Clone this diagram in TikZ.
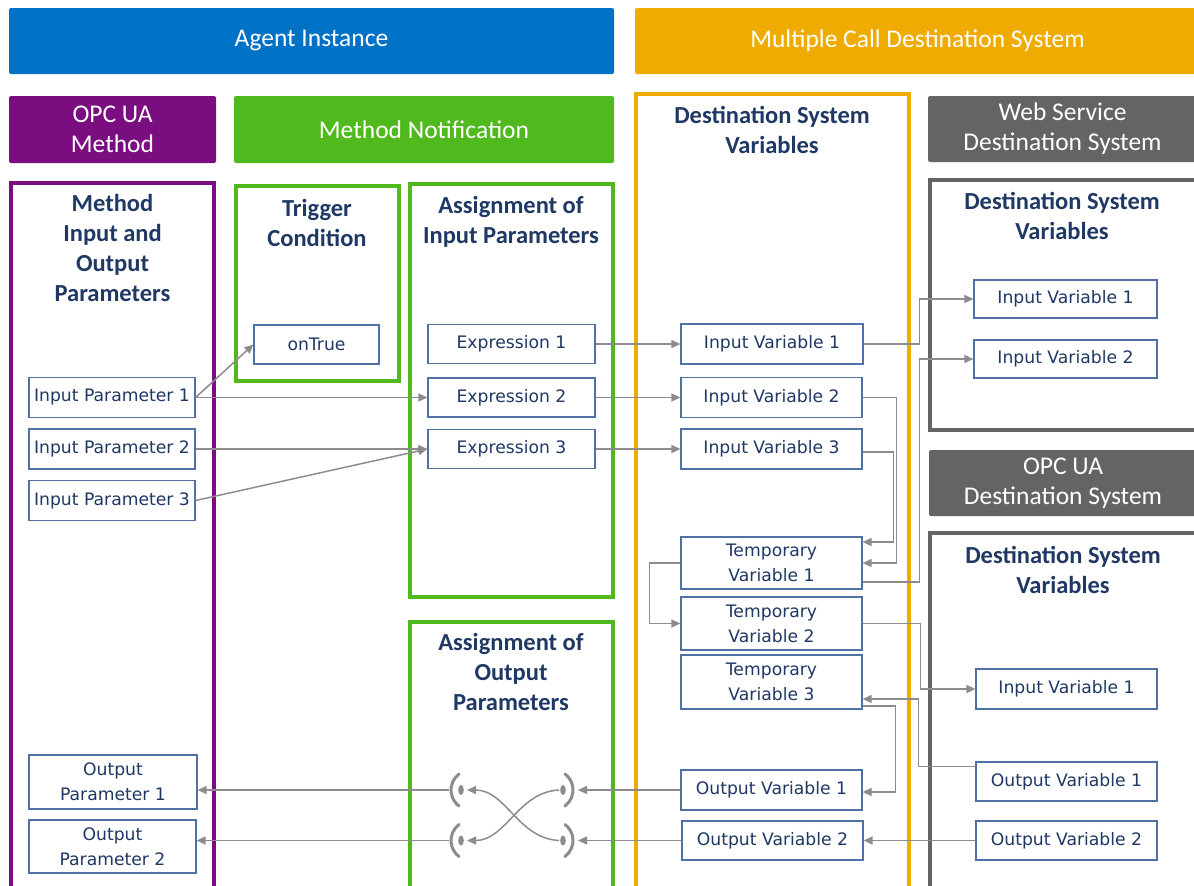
\documentclass[tikz,border=0pt]{standalone}
\usepackage{fontspec}
\setmainfont{Carlito}
\newfontfamily\lblfont{DejaVu Sans}
\usetikzlibrary{arrows.meta,calc}
\definecolor{agentblue}{RGB}{0,114,198}
\definecolor{mcdorange}{RGB}{240,171,0}
\definecolor{opcpurple}{RGB}{122,14,128}
\definecolor{mngreen}{RGB}{80,185,30}
\definecolor{dsgray}{RGB}{100,100,100}
\definecolor{navy}{RGB}{31,56,100}
\definecolor{boxblue}{RGB}{79,113,163}
\definecolor{conngray}{RGB}{140,140,140}
\begin{document}
\begin{tikzpicture}[x=1pt,y=-1pt,
  banner/.style={fill=#1, draw=none, rounded corners=2pt, text=white,
    font=\fontsize{25.5}{30}\selectfont, align=center, inner sep=0pt},
  frame/.style={draw=#1, line width=4pt, inner sep=0pt},
  ttl/.style={text=navy, font=\bfseries\fontsize{24.5}{30}\selectfont, align=center, inner sep=0pt},
  lbl/.style={draw=boxblue, line width=1.2pt, fill=white, text=navy,
    font=\lblfont\fontsize{17.2}{25}\selectfont, align=center, inner sep=0pt},
  conn/.style={draw=conngray, line width=1.5pt, -{Triangle[length=9pt,width=8pt]}},
  sym/.style={draw=conngray, line width=3pt, line cap=round}
]
\useasboundingbox (0,0) rectangle (1194,886);
\clip (0,0) rectangle (1194,886);
\fill[white] (0,0) rectangle (1194,886);

% banners
\node[banner=agentblue, minimum width=605pt, minimum height=66pt] (agent) at (311.5,41) {Agent Instance};
\node[banner=mcdorange, minimum width=565pt, minimum height=66pt] (mcds) at (917.5,41) {Multiple Call Destination System};
\node[banner=opcpurple, minimum width=207pt, minimum height=67pt] (opcm) at (112.5,129.5) {OPC UA\\Method};
\node[banner=mngreen, minimum width=380pt, minimum height=67pt] (mnot) at (424,129.5) {Method Notification};
\node[banner=dsgray, minimum width=269pt, minimum height=66pt] (wsds) at (1062.5,129) {Web Service\\Destination System};
\node[banner=dsgray, minimum width=268pt, minimum height=66pt] (opcds) at (1063,483) {OPC UA\\Destination System};

% frames
\node[frame=opcpurple, minimum width=203pt, minimum height=737pt] (fmio) at (112.5,551.5) {};
\node[frame=mngreen, minimum width=163pt, minimum height=195pt] (ftrig) at (317.5,283.5) {};
\node[frame=mngreen, minimum width=203pt, minimum height=413pt] (fain) at (511.5,390.5) {};
\node[frame=mngreen, minimum width=203pt, minimum height=298pt] (faout) at (511.5,771) {};
\node[frame=mcdorange, line width=3.5pt, minimum width=273pt, minimum height=826pt] (fdsv) at (772.5,507) {};
\node[frame=dsgray, minimum width=280pt, minimum height=250pt] (fws) at (1070,305) {};
\node[frame=dsgray, minimum width=280pt, minimum height=387pt] (fopc) at (1070,726.5) {};

% titles
\node[ttl] (tmio) at (112.5,248) {Method\\Input and\\Output\\Parameters};
\node[ttl] (ttrig) at (317,222.5) {Trigger\\Condition};
\node[ttl] (tain) at (511,221.5) {Assignment of\\Input Parameters};
\node[ttl] (taout) at (511,671.5) {Assignment of\\Output\\Parameters};
\node[ttl] (tdsv) at (772,129.5) {Destination System\\Variables};
\node[ttl] (tws) at (1062,215.5) {Destination System\\Variables};
\node[ttl] (topc) at (1063,569.5) {Destination System\\Variables};

% boxes
\node[lbl, minimum width=125pt, minimum height=39pt] (onTrue) at (316.5,344.5) {onTrue};
\node[lbl, minimum width=167pt, minimum height=39pt] (expr1) at (511.5,344) {Expression 1};
\node[lbl, minimum width=167pt, minimum height=39pt] (expr2) at (511.5,397.5) {Expression 2};
\node[lbl, minimum width=167pt, minimum height=39pt] (expr3) at (511.5,449) {Expression 3};
\node[lbl, minimum width=166pt, minimum height=40pt] (ip1) at (112,397.5) {Input Parameter 1};
\node[lbl, minimum width=166pt, minimum height=40pt] (ip2) at (112,449) {Input Parameter 2};
\node[lbl, minimum width=166pt, minimum height=40pt] (ip3) at (112,500.5) {Input Parameter 3};
\node[lbl, minimum width=168pt, minimum height=54pt] (op1) at (113,782) {Output\\Parameter 1};
\node[lbl, minimum width=167pt, minimum height=53pt] (op2) at (112.5,846.5) {Output\\Parameter 2};
\node[lbl, minimum width=182pt, minimum height=40pt] (iv1) at (772,344) {Input Variable 1};
\node[lbl, minimum width=181pt, minimum height=40pt] (iv2) at (771.5,397.5) {Input Variable 2};
\node[lbl, minimum width=181pt, minimum height=40pt] (iv3) at (771.5,449) {Input Variable 3};
\node[lbl, minimum width=181pt, minimum height=52pt] (tv1) at (771.5,563) {Temporary\\Variable 1};
\node[lbl, minimum width=181pt, minimum height=53pt] (tv2) at (771.5,623.5) {Temporary\\Variable 2};
\node[lbl, minimum width=181pt, minimum height=54pt] (tv3) at (771.5,682) {Temporary\\Variable 3};
\node[lbl, minimum width=181pt, minimum height=40pt] (ov1) at (771.5,790) {Output Variable 1};
\node[lbl, minimum width=181pt, minimum height=39pt] (ov2) at (772.5,840.5) {Output Variable 2};
\node[lbl, minimum width=183pt, minimum height=38pt] (wsiv1) at (1065.5,299) {Input Variable 1};
\node[lbl, minimum width=183pt, minimum height=38pt] (wsiv2) at (1065.5,359) {Input Variable 2};
\node[lbl, minimum width=181pt, minimum height=40pt] (opciv1) at (1066.5,689) {Input Variable 1};
\node[lbl, minimum width=181pt, minimum height=39pt] (opcov1) at (1066.5,781.5) {Output Variable 1};
\node[lbl, minimum width=181pt, minimum height=39pt] (opcov2) at (1066.5,840.5) {Output Variable 2};

% connectors
\draw[conn] (ip1.east) -- (onTrue.west);
\draw[conn] (ip1.east) -- (expr2.west);
\draw[conn] (ip2.east) -- (expr3.west);
\draw[conn] (ip3.east) -- (expr3.west);
\draw[conn] (expr1.east) -- (iv1.west);
\draw[conn] (expr2.east) -- (iv2.west);
\draw[conn] (expr3.east) -- (iv3.west);
\draw[conn] (iv1.east) -- ++(56,0) |- (wsiv1.west);
\draw[conn] (iv2.east) -- ++(34,0) |- (tv1.east);
\draw[conn] ([yshift=-3pt]iv3.east) -- ++(31,0) |- ([yshift=21pt]tv1.east);
\draw[conn] ([yshift=-19pt]tv1.east) -- ++(57,0) |- (wsiv2.west);
\draw[conn] (tv1.west) -- ++(-31,0) |- (tv2.west);
\draw[conn] (tv2.east) -- ++(58,0) |- (opciv1.west);
\draw[conn] ([yshift=15pt]opcov1.west) -- ++(-57,0) |- ([yshift=-17pt]tv3.east);
\draw[conn] ([yshift=-24pt]tv3.east) -- ++(33,0) |- ([yshift=-2pt]ov1.east);
\draw[conn] (opcov2.west) -- (ov2.east);

% swap symbols
\coordinate (rs1) at (563,790);
\coordinate (rs2) at (563,840.5);
\coordinate (ls1) at (461,790);
\coordinate (ls2) at (461,840.5);
\coordinate (rs1i) at (578,790);
\coordinate (rs2i) at (578,840.5);
\coordinate (ls1o) at (449,790);
\coordinate (ls2o) at (449,840.5);
\foreach \c in {rs1,rs2,ls1,ls2}{
  \fill[conngray] (\c) ellipse [x radius=2.8pt, y radius=5pt];
}
\foreach \c in {rs1,rs2}{
  \draw[sym] ($(\c)+(-10pt,0pt)$) ++(-53:20pt) arc[start angle=-53,end angle=53,radius=20pt];
}
\foreach \c in {ls1,ls2}{
  \draw[sym] ($(\c)+(10pt,0pt)$) ++(127:20pt) arc[start angle=127,end angle=233,radius=20pt];
}
\draw[conn] (ov1.west) -- (rs1i);
\draw[conn] (ov2.west) -- (rs2i);
\draw[conn] ($(rs1)+(-4,0)$) .. controls ($(rs1)+(-45,2)$) and ($(ls2)+(45,0)$) .. ($(ls2)+(6,0)$);
\draw[conn] ($(rs2)+(-4,0)$) .. controls ($(rs2)+(-45,-2)$) and ($(ls1)+(45,0)$) .. ($(ls1)+(6,0)$);
\draw[conn] (ls1o) -- (ls1o -| op1.east);
\draw[conn] (ls2o) -- (ls2o -| op2.east);
\end{tikzpicture}
\end{document}
